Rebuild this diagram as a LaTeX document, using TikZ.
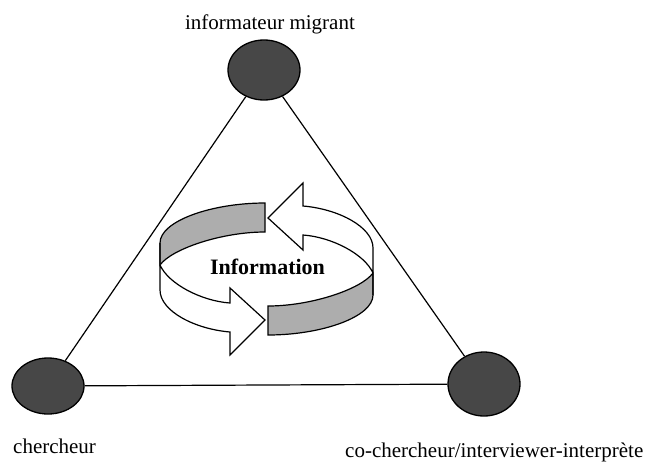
\documentclass[tikz,border=0pt]{standalone}
\usepackage{fontspec}
\setmainfont{Liberation Serif}
\usetikzlibrary{shapes.geometric}
\begin{document}
\begin{tikzpicture}[x=1pt,y=-1pt,
  pole/.style={ellipse,draw,line width=1.3pt,fill=black!72,minimum width=72pt,minimum height=60pt,inner sep=0pt},
  lbl/.style={font=\fontsize{21}{25}\selectfont,inner sep=0pt},
  band/.style={draw,line width=1.2pt,line join=miter},
  link/.style={line width=1.2pt}]
\useasboundingbox (0,0) rectangle (652,461);
\node[pole](inf)at(264,70){};
\node[pole,minimum height=56pt](ch)at(48,386){};
\node[pole,minimum height=64pt](co)at(484,384){};
\draw[link] (inf)--(ch);
\draw[link] (inf)--(co);
\draw[link] (ch)--(co);
\node[lbl,anchor=base](infl)at(270,29){informateur migrant};
\node[lbl,anchor=base west](chl)at(13,453){chercheur};
\node[lbl,anchor=base west](col)at(345,457){co-chercheur/interviewer-interprète};
\foreach \r in {0,180}{
  \begin{scope}[shift={(266.5,269)},rotate=\r]
    \draw[band,fill=black!32] (-1.5,-66) .. controls (-55,-66) and (-106.5,-48) .. (-106.5,-26) -- (-106.5,-4) .. controls (-95,-20) and (-45,-37) .. (-1.5,-37) -- cycle;
    \draw[band,fill=white] (-106.5,-26) -- (-106.5,21) .. controls (-106.5,42) and (-72,60) .. (-36.5,63) -- (-36.5,86) -- (-1.5,51) -- (-36.5,19) -- (-36.5,34) .. controls (-65,32) and (-98,15) .. (-106.5,-4) -- cycle;
  \end{scope}}
\node[font=\bfseries\fontsize{22}{26}\selectfont,anchor=base,inner sep=0pt](info)at(267.5,274){Information};
\end{tikzpicture}
\end{document}
